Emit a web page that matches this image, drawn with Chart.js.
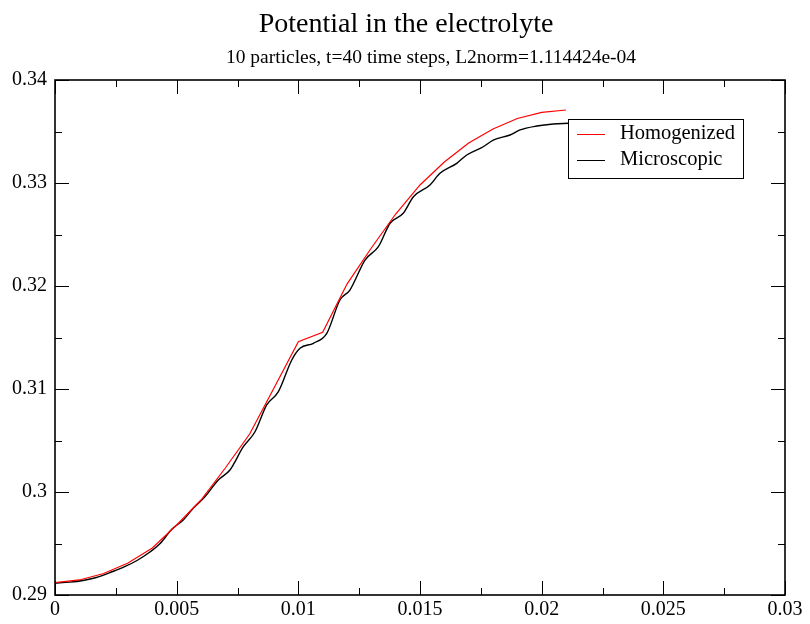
<!DOCTYPE html>
<html>
<head>
<meta charset="utf-8">
<script src="https://cdn.jsdelivr.net/npm/chart.js@4.4.1/dist/chart.umd.min.js"></script>
<style>
  html, body { margin: 0; padding: 0; background: #fff; }
  #wrap { width: 810px; height: 624px; position: relative; }
</style>
</head>
<body>
<div id="wrap"><canvas id="chart" width="810" height="624"></canvas></div>
<script>
const titleText = 'Potential in the electrolyte';
const subtitleText = '10 particles, t=40 time steps, L2norm=1.114424e-04';

const seriesLabels = ['Homogenized', 'Microscopic'];
const seriesColors = ['#ff0000', '#000000'];

// homogenized solution (red)
const homX = [0, 0.001, 0.002, 0.003, 0.004, 0.005, 0.006, 0.007, 0.008, 0.009, 0.010,
  0.011, 0.012, 0.013, 0.014, 0.015, 0.016, 0.017, 0.018, 0.019, 0.020, 0.021];
const homY = [0.29120, 0.29146, 0.29209, 0.29311, 0.29456, 0.29680, 0.29922, 0.30233, 0.30563, 0.31010, 0.31459,
  0.31550, 0.32019, 0.32369, 0.32699, 0.32981, 0.33204, 0.33388, 0.33524, 0.33626, 0.33686, 0.33709];

// microscopic solution (black, wavy)
const micX = [0, 0.00060, 0.00115, 0.00170, 0.00226, 0.00284, 0.00337, 0.00390, 0.00432, 0.00480,
  0.00527, 0.00568, 0.00616, 0.00671, 0.00719, 0.00774, 0.00822, 0.00870, 0.00918, 0.00973,
  0.01007, 0.01062, 0.01117, 0.01171, 0.01212, 0.01274, 0.01329, 0.01377, 0.01431, 0.01473,
  0.01541, 0.01582, 0.01651, 0.01692, 0.01760, 0.01801, 0.01870, 0.01911, 0.01980, 0.02048, 0.02110];
const micY = [0.29117, 0.29125, 0.29141, 0.29170, 0.29218, 0.29272, 0.29335, 0.29417, 0.29500, 0.29638,
  0.29728, 0.29842, 0.29954, 0.30117, 0.30214, 0.30440, 0.30585, 0.30845, 0.30974, 0.31282,
  0.31395, 0.31444, 0.31541, 0.31864, 0.31961, 0.32252, 0.32382, 0.32609, 0.32706, 0.32867,
  0.32981, 0.33094, 0.33191, 0.33272, 0.33352, 0.33417, 0.33466, 0.33515, 0.33553, 0.33573, 0.33580];

const xTicks = [0, 0.005, 0.01, 0.015, 0.02, 0.025, 0.03];
const yTicks = [0.29, 0.3, 0.31, 0.32, 0.33, 0.34];
const xMinor = [0.0025, 0.0075, 0.0125, 0.0175, 0.0225, 0.0275];
const yMinor = [0.295, 0.305, 0.315, 0.325, 0.335];

const FONT = '"Liberation Serif", "Times New Roman", serif';

const toPoints = (xs, ys) => xs.map((x, i) => ({ x: x, y: ys[i] }));

// grace-like frame, inward ticks, labels, titles and legend box
const gracePlugin = {
  id: 'grace',
  afterDraw(chart) {
    const ctx = chart.ctx;
    const a = chart.chartArea;
    const xs = chart.scales.x;
    const ys = chart.scales.y;
    ctx.save();
    ctx.strokeStyle = '#000';
    ctx.fillStyle = '#000';

    ctx.lineWidth = 1.6;
    ctx.strokeRect(a.left, a.top, a.right - a.left, a.bottom - a.top);

    ctx.lineWidth = 1;
    const tick = (x1, y1, x2, y2) => {
      ctx.beginPath();
      ctx.moveTo(x1, y1);
      ctx.lineTo(x2, y2);
      ctx.stroke();
    };
    xTicks.forEach(v => {
      const px = Math.round(xs.getPixelForValue(v)) + 0.5;
      tick(px, a.bottom, px, a.bottom - 14);
      tick(px, a.top, px, a.top + 14);
    });
    xMinor.forEach(v => {
      const px = Math.round(xs.getPixelForValue(v)) + 0.5;
      tick(px, a.bottom, px, a.bottom - 7);
      tick(px, a.top, px, a.top + 7);
    });
    yTicks.forEach(v => {
      const py = Math.round(ys.getPixelForValue(v)) + 0.5;
      tick(a.left, py, a.left + 14, py);
      tick(a.right, py, a.right - 14, py);
    });
    yMinor.forEach(v => {
      const py = Math.round(ys.getPixelForValue(v)) + 0.5;
      tick(a.left, py, a.left + 7, py);
      tick(a.right, py, a.right - 7, py);
    });

    ctx.font = '20px ' + FONT;
    ctx.textAlign = 'center';
    ctx.textBaseline = 'alphabetic';
    xTicks.forEach(v => {
      ctx.fillText(String(v), xs.getPixelForValue(v), a.bottom + 20);
    });
    ctx.textAlign = 'right';
    ctx.textBaseline = 'middle';
    yTicks.forEach(v => {
      ctx.fillText(String(v), a.left - 8, ys.getPixelForValue(v));
    });

    ctx.textAlign = 'center';
    ctx.textBaseline = 'alphabetic';
    ctx.font = '28px ' + FONT;
    ctx.fillText(titleText, 406, 32);
    ctx.font = '19.5px ' + FONT;
    ctx.fillText(subtitleText, 431, 63);

    // legend
    const lx = 568, ly = 119, lw = 175, lh = 59;
    ctx.fillStyle = '#fff';
    ctx.fillRect(lx, ly, lw, lh);
    ctx.lineWidth = 1;
    ctx.strokeStyle = '#000';
    ctx.strokeRect(lx + 0.5, ly + 0.5, lw, lh);
    ctx.font = '20.5px ' + FONT;
    ctx.textAlign = 'left';
    ctx.textBaseline = 'middle';
    seriesLabels.forEach((lab, i) => {
      const y = ly + 15 + i * 26;
      ctx.strokeStyle = seriesColors[i];
      tick(lx + 9, y + 0.5, lx + 37, y + 0.5);
      ctx.fillStyle = '#000';
      ctx.fillText(lab, lx + 52, y);
    });
    ctx.restore();
  }
};

new Chart(document.getElementById('chart'), {
  type: 'line',
  data: {
    datasets: [
      {
        label: seriesLabels[0],
        data: toPoints(homX, homY),
        borderColor: seriesColors[0],
        borderWidth: 1.2,
        pointRadius: 0,
        tension: 0,
        fill: false,
      },
      {
        label: seriesLabels[1],
        data: toPoints(micX, micY),
        borderColor: seriesColors[1],
        borderWidth: 1.4,
        pointRadius: 0,
        cubicInterpolationMode: 'monotone',
        fill: false,
      },
    ],
  },
  plugins: [gracePlugin],
  options: {
    responsive: false,
    animation: false,
    devicePixelRatio: 1,
    layout: { padding: { left: 55, right: 25, top: 80, bottom: 29 } },
    plugins: {
      legend: { display: false },
      title: { display: false },
      tooltip: { enabled: false },
    },
    scales: {
      x: {
        type: 'linear',
        display: false,
        min: 0,
        max: 0.03,
        ticks: { stepSize: 0.005 },
      },
      y: {
        type: 'linear',
        display: false,
        min: 0.29,
        max: 0.34,
        ticks: { stepSize: 0.01 },
      },
    },
  },
});
</script>
</body>
</html>
